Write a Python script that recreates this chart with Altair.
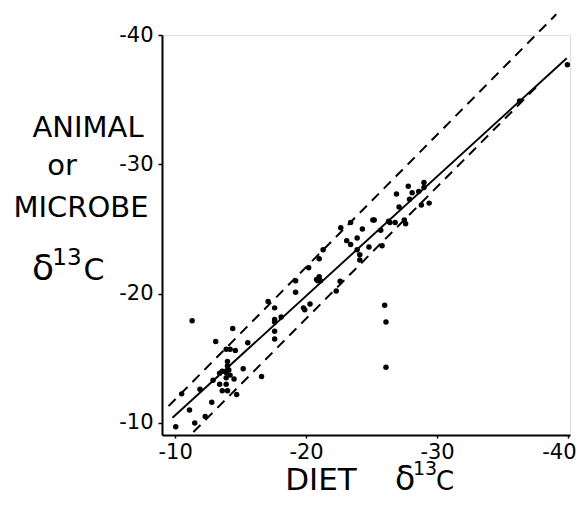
import altair as alt
import pandas as pd

# scatter points (diet d13C, animal/microbe d13C)
diet = [-10.05, -11.5, -11.1, -12.3, -12.8, -10.5, -11.9, -11.3, -12.9, -13.1,
        -13.4, -13.6, -14.0, -13.9, -13.4, -13.6, -13.9, -14.2, -14.6, -14.0,
        -14.0, -13.9, -14.2, -13.9, -14.1, -14.4, -14.5, -14.7, -15.2, -15.55,
        -16.6, -17.1, -17.6, -17.6, -17.6, -17.6, -17.6, -18.1, -19.2, -19.2,
        -19.8, -19.9, -20.3, -20.9, -21.1, -22.3, -22.6, -20.2, -20.8, -21.0,
        -21.0, -21.3, -22.65, -23.1, -23.4, -23.4, -23.9, -23.9, -24.1, -24.1,
        -24.3, -24.8, -25.1, -25.2, -25.7, -25.8, -26.0, -26.1, -26.1, -26.3,
        -26.4, -26.8, -26.9, -27.1, -27.5, -27.6, -27.8, -27.9, -28.1, -28.6,
        -28.8, -29.0, -29.0, -29.4, -36.3, -39.95]
animal = [-9.7, -10.0, -11.0, -10.5, -11.6, -12.25, -12.6, -17.9, -13.3, -16.3,
          -13.0, -12.5, -12.5, -13.0, -13.85, -14.0, -15.7, -15.7, -15.6, -14.75,
          -14.4, -13.9, -13.7, -13.5, -14.1, -17.3, -13.4, -12.2, -14.2, -16.2,
          -13.6, -19.4, -18.9, -18.0, -17.8, -17.1, -16.5, -18.2, -20.1, -21.0,
          -18.9, -18.75, -19.2, -21.0, -21.0, -20.2, -20.95, -22.0, -21.1, -21.3,
          -22.7, -23.4, -25.1, -24.1, -23.8, -25.5, -24.3, -23.4, -23.0, -22.6,
          -25.0, -23.6, -25.7, -25.7, -24.9, -23.7, -19.1, -17.8, -14.3, -25.6,
          -25.5, -25.5, -27.7, -26.7, -25.7, -25.4, -28.3, -27.3, -27.8, -27.9,
          -26.85, -28.2, -28.6, -27.0, -34.9, -37.7]

# line endpoints
line_name = ["fit", "fit", "upper", "upper", "lower", "lower"]
line_x = [-9.8, -39.9, -9.5, -39.1, -11.4, -37.6]
line_y = [-10.4, -38.2, -11.3, -41.6, -9.3, -36.0]

ticks = [-10, -20, -30, -40]

FONT = "DejaVu Sans"

pts = pd.DataFrame({"diet": diet, "animal": animal})
lines = pd.DataFrame({"name": line_name, "diet": line_x, "animal": line_y})

xscale = alt.Scale(domain=[-40.15, -9.0], reverse=True, nice=False, zero=False)
yscale = alt.Scale(domain=[-40.0, -9.07], reverse=True, nice=False, zero=False)

xaxis = alt.Axis(values=ticks, title=None, grid=False,
                 labelExpr="'-' + abs(datum.value) + (datum.value == -40 ? '' : '\u2002')",
                 labelFont=FONT, labelFontSize=21, labelColor="black", labelPadding=3,
                 labelFlush=5, labelFlushOffset=8, labelOverlap=False, labelBound=False,
                 domainColor="black", domainWidth=2, tickColor="black", tickSize=3, tickWidth=1.5)
yaxis = alt.Axis(values=ticks, title=None, grid=False, labelExpr="'-' + abs(datum.value)",
                 labelFont=FONT, labelFontSize=21, labelColor="black", labelPadding=5,
                 labelFlush=False, labelOverlap=False,
                 domainColor="black", domainWidth=2, tickColor="black", tickSize=4, tickWidth=1.5)

X = alt.X("diet:Q", scale=xscale, axis=xaxis)
Y = alt.Y("animal:Q", scale=yscale, axis=yaxis)

points = alt.Chart(pts).mark_circle(size=30, color="black", opacity=1).encode(x=X, y=Y)

solid = alt.Chart(lines).transform_filter("datum.name == 'fit'").mark_line(
    color="black", strokeWidth=1.9, clip=False).encode(x=X, y=Y)

dashed = alt.Chart(lines).transform_filter("datum.name != 'fit'").mark_line(
    color="black", strokeWidth=2, strokeDash=[10, 7], clip=False).encode(
    x=X, y=Y, detail="name:N")

texts = [
    ("ANIMAL", -74, 102, 29),
    ("or", -100, 140, 29),
    ("MICROBE", -81, 182, 29),
    ("δ", -119, 245, 36),
    ("13", -95, 230, 23),
    ("C", -68, 245, 30),
    ("DIET", 159, 455, 31),
    ("δ", 243, 455, 33),
    ("13", 263, 440, 19),
    ("C", 283, 455, 26),
]

layers = [dashed, solid, points]
for t, x, y, s in texts:
    layers.append(
        alt.Chart(pd.DataFrame({"t": [t]})).mark_text(
            font=FONT, fontSize=s, color="black", align="center", baseline="alphabetic"
        ).encode(text="t:N", x=alt.value(x), y=alt.value(y))
    )

chart = alt.layer(*layers).properties(
    width=408, height=400,
    autosize=alt.AutoSizeParams(type="none"),
    padding={"left": 154, "top": 27, "right": 6, "bottom": 63},
).configure_view(stroke=None).configure(background="white")

chart.save("out.html", embed_options={"renderer": "svg", "actions": False})
